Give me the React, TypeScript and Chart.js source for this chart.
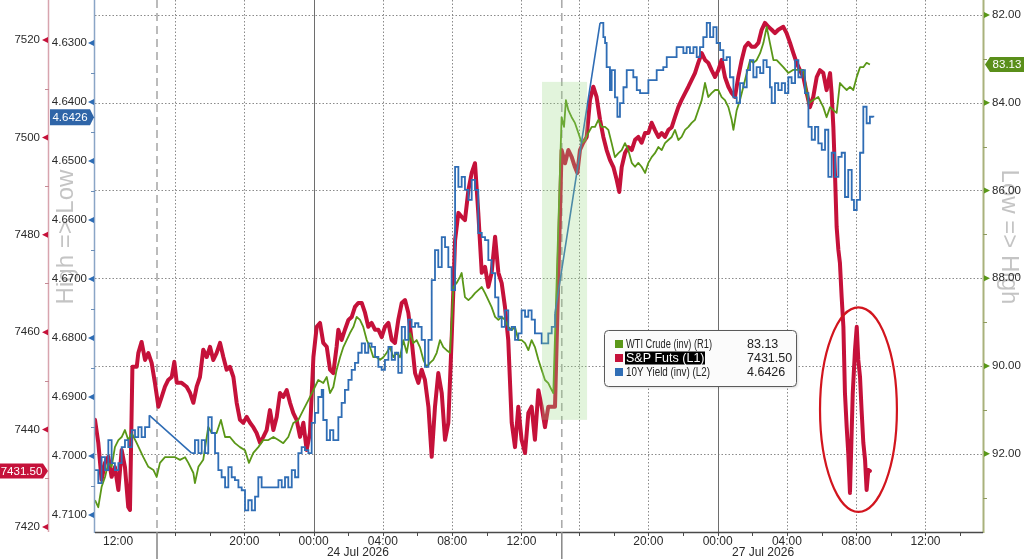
import React, { useEffect, useRef } from 'react';
import { Chart, registerables } from 'chart.js';

Chart.register(...registerables);

const FONT = "'Liberation Sans', Arial, sans-serif";

// ---- legend / series meta ----
const seriesNames = ['WTI Crude (inv) (R1)', 'S&P Futs (L1)', '10Y Yield (inv) (L2)'];
const seriesColors = ['#5a9718', '#c5113a', '#2f6db5'];

// ---- x axis: compressed session hours (0 = 12:00 Thu, breaks removed) ----
const xRange = [-0.62, 50.65];
const xLabelPos = [0.71, 8, 12, 16, 20, 24, 31.33, 35.33, 39.33, 43.33, 47.33];
const xLabelText = ['12:00', '20:00', '00:00', '04:00', '08:00', '12:00', '20:00', '00:00', '04:00', '08:00', '12:00'];
const xGridDotted = [4, 8, 16, 20, 24, 27.33, 31.33, 39.33, 43.33, 47.33];
const xDaySolid = [12, 35.33];
const xBreakDashed = [2.96, 26.33];
const xMinor = [6, 10, 14, 18, 22, 26, 29.33, 33.33, 37.33, 41.33, 45.33, 49.33];
const dateLabelPos = [14.56, 37.95];
const dateLabelText = ['24 Jul 2026', '27 Jul 2026'];

// ---- y axes ----
const spxRange = [7418.97, 7528.21];
const spxTicks = [7420, 7440, 7460, 7480, 7500, 7520];
const spxMinor = [7430, 7450, 7470, 7490, 7510];
const yldRange = [4.62271, 4.71288];
const yldTicks = [4.63, 4.64, 4.65, 4.66, 4.67, 4.68, 4.69, 4.7, 4.71];
const yldMinor = [4.635, 4.645, 4.655, 4.665, 4.675, 4.685, 4.695, 4.705];
const wtiRange = [81.658, 93.785];
const wtiTicks = [82, 84, 86, 88, 90, 92];
const wtiMinor = [83, 85, 87, 89, 91, 93];

// ---- annotations ----
const highlightX = [25.19, 27.79];
const highlightSpx = [7442.0, 7511.4];
const ellipseCenter = [43.46, 7444.1];
const ellipseRadius = [2.22, 21.0];

// ---- series: [session hour, value] ----
const spxSeries = [
  [-0.62,7442.0],[-0.43,7437.3],[-0.24,7429.7],[-0.04,7433.2],[0.15,7434.4],[0.34,7430.3],[0.53,7432.3],[0.73,7427.6],[0.92,7435.8],[1.11,7432.3],
  [1.30,7424.1],[1.40,7423.5],[1.54,7452.9],[1.79,7452.9],[1.88,7455.7],[2.07,7458.0],[2.27,7454.3],[2.46,7455.7],[2.65,7453.7],[2.84,7449.6],
  [3.04,7444.7],[3.23,7446.7],[3.42,7448.8],[3.61,7450.2],[3.81,7450.8],[3.96,7453.9],[4.10,7449.6],[4.38,7449.6],[4.67,7448.8],[4.87,7447.5],
  [5.06,7445.5],[5.25,7448.8],[5.44,7450.8],[5.63,7456.4],[5.83,7454.9],[6.02,7457.0],[6.21,7454.3],[6.40,7455.7],[6.60,7457.8],[6.79,7454.9],
  [6.98,7452.3],[7.17,7452.9],[7.37,7450.8],[7.56,7445.5],[7.75,7442.0],[7.94,7441.4],[8.14,7442.6],[8.33,7441.4],[8.52,7440.5],[8.71,7439.3],
  [8.91,7437.3],[9.10,7438.5],[9.29,7439.9],[9.48,7444.0],[9.68,7439.9],[9.87,7442.6],[10.06,7447.5],[10.25,7446.7],[10.45,7448.1],[10.64,7445.5],
  [10.83,7443.4],[11.02,7442.0],[11.22,7438.5],[11.41,7441.4],[11.60,7435.8],[11.79,7439.3],[11.99,7454.9],[12.18,7461.1],[12.37,7461.9],[12.56,7457.8],
  [12.76,7457.0],[12.95,7452.3],[13.14,7451.6],[13.33,7457.0],[13.43,7460.5],[13.62,7458.4],[13.81,7460.5],[14.01,7462.5],[14.20,7463.1],[14.39,7465.2],
  [14.58,7466.0],[14.78,7466.0],[14.97,7464.0],[15.16,7461.1],[15.35,7461.9],[15.55,7460.5],[15.74,7460.5],[15.93,7459.0],[16.12,7461.1],[16.32,7461.9],
  [16.51,7458.4],[16.70,7457.8],[16.89,7462.5],[17.09,7466.0],[17.28,7466.6],[17.47,7464.0],[17.66,7458.4],[17.86,7451.6],[18.05,7449.6],[18.24,7452.3],
  [18.43,7450.2],[18.63,7444.7],[18.82,7434.4],[19.01,7444.7],[19.20,7451.6],[19.40,7447.5],[19.59,7437.9],[19.78,7441.4],[19.97,7458.4],[20.17,7478.9],
  [20.36,7484.5],[20.55,7483.7],[20.74,7483.0],[20.94,7489.2],[21.13,7492.7],[21.32,7494.7],[21.51,7484.5],[21.71,7472.2],[21.90,7473.4],[22.09,7469.3],
  [22.28,7472.2],[22.48,7479.6],[22.67,7472.2],[22.86,7470.1],[23.05,7465.2],[23.24,7458.4],[23.44,7441.4],[23.63,7436.4],[23.82,7444.7],[24.01,7437.9],
  [24.21,7435.2],[24.40,7443.4],[24.59,7444.7],[24.78,7437.9],[24.98,7448.1],[25.17,7444.7],[25.36,7440.5],[25.55,7444.7],[25.75,7444.7],[25.94,7444.7],
  [26.32,7497.4],[26.52,7494.7],[26.71,7497.4],[26.90,7496.0],[27.09,7493.9],[27.23,7492.7],[27.38,7497.4],[27.57,7498.9],[27.77,7500.1],[27.96,7507.7],
  [28.15,7510.4],[28.34,7508.3],[28.54,7503.6],[28.73,7500.1],[28.92,7497.4],[29.11,7495.4],[29.31,7493.9],[29.50,7491.3],[29.65,7488.8],[29.79,7493.9],
  [29.98,7496.8],[30.17,7498.0],[30.37,7497.4],[30.56,7499.5],[30.75,7500.1],[30.94,7498.9],[31.14,7500.9],[31.33,7500.9],[31.52,7503.0],[31.71,7501.5],
  [31.91,7500.1],[32.10,7500.9],[32.29,7500.1],[32.48,7501.5],[32.68,7502.1],[32.87,7504.2],[33.06,7506.2],[33.25,7507.7],[33.45,7509.1],[33.64,7510.4],
  [33.83,7511.8],[34.02,7513.2],[34.21,7515.3],[34.41,7517.3],[34.60,7515.9],[34.79,7515.3],[34.98,7513.8],[35.18,7512.4],[35.37,7513.8],[35.56,7515.9],
  [35.75,7512.4],[35.95,7510.4],[36.14,7509.1],[36.33,7508.3],[36.52,7512.4],[36.72,7515.9],[36.91,7518.6],[37.10,7519.4],[37.29,7518.6],[37.49,7518.6],
  [37.68,7519.4],[37.87,7522.1],[38.06,7523.5],[38.26,7522.7],[38.45,7522.1],[38.64,7521.4],[38.83,7522.1],[39.12,7522.7],[39.31,7521.4],[39.51,7519.4],
  [39.70,7517.3],[39.89,7515.3],[40.08,7513.8],[40.28,7512.4],[40.47,7509.1],[40.66,7506.2],[40.85,7508.3],[41.05,7512.4],[41.24,7513.8],[41.43,7513.2],
  [41.62,7509.7],[41.82,7513.2],[41.91,7509.1],[42.01,7502.1],[42.11,7491.9],[42.20,7481.6],[42.30,7476.9],[42.39,7474.2],[42.49,7467.2],[42.59,7461.1],
  [42.68,7447.5],[42.78,7440.5],[42.87,7435.2],[42.97,7427.0],[43.13,7447.5],[43.26,7456.4],[43.36,7461.1],[43.45,7454.3],[43.55,7450.8],[43.64,7444.0],
  [43.74,7437.3],[43.84,7433.8],[43.93,7427.6],[44.03,7431.7],[44.12,7431.5]
];

const yldSeries = [
  [-0.62,4.7024],[-0.43,4.7046],[-0.24,4.7002],[-0.04,4.7024],[0.15,4.6973],[0.34,4.7012],[0.53,4.7024],[0.73,4.7012],[0.92,4.6985],[1.11,4.6973],
  [1.30,4.6985],[1.50,4.6956],[1.69,4.6968],[1.88,4.6951],[2.07,4.6968],[2.27,4.6951],[2.52,4.6931],[4.96,4.6995],[5.15,4.6973],[5.35,4.6995],
  [5.54,4.6973],[5.73,4.6995],[5.92,4.6934],[6.12,4.6961],[6.31,4.6995],[6.50,4.7024],[6.69,4.7036],[6.89,4.7053],[7.08,4.7019],[7.27,4.7036],
  [7.46,4.7041],[7.66,4.7053],[7.85,4.7058],[8.04,4.7092],[8.23,4.7075],[8.43,4.7092],[8.62,4.7069],[8.81,4.7036],[9.00,4.7053],[9.58,4.7053],
  [9.97,4.7041],[10.16,4.7053],[10.35,4.7036],[10.54,4.7053],[10.74,4.7024],[10.93,4.7036],[11.12,4.6995],[11.31,4.6985],[11.50,4.6990],[11.70,4.6995],
  [11.89,4.6944],[12.08,4.6927],[12.27,4.6900],[12.47,4.6888],[12.56,4.6939],[12.76,4.6973],[12.95,4.6956],[13.14,4.6973],[13.33,4.6973],[13.43,4.6934],
  [13.62,4.6910],[13.81,4.6888],[14.01,4.6871],[14.20,4.6854],[14.39,4.6842],[14.58,4.6825],[14.78,4.6809],[14.97,4.6825],[15.16,4.6809],[15.35,4.6815],
  [15.55,4.6832],[15.74,4.6849],[15.93,4.6854],[16.12,4.6837],[16.32,4.6815],[16.51,4.6837],[16.70,4.6825],[16.89,4.6859],[17.09,4.6781],[17.28,4.6803],
  [17.47,4.6769],[17.66,4.6781],[17.86,4.6775],[18.05,4.6781],[18.24,4.6803],[18.43,4.6849],[18.63,4.6803],[18.82,4.6702],[19.01,4.6651],[19.20,4.6680],
  [19.40,4.6629],[19.59,4.6646],[19.78,4.6680],[19.97,4.6719],[20.17,4.6510],[20.36,4.6544],[20.55,4.6527],[20.74,4.6549],[20.94,4.6566],[21.13,4.6532],
  [21.32,4.6549],[21.51,4.6622],[21.71,4.6629],[21.90,4.6634],[22.09,4.6668],[22.28,4.6690],[22.48,4.6731],[22.67,4.6764],[22.86,4.6781],[23.05,4.6753],
  [23.24,4.6786],[23.44,4.6781],[23.63,4.6803],[23.82,4.6792],[24.01,4.6753],[24.21,4.6764],[24.40,4.6753],[24.59,4.6769],[24.78,4.6792],[24.98,4.6792],
  [25.17,4.6809],[25.36,4.6809],[25.55,4.6792],[25.75,4.6781],[25.94,4.6758],[28.54,4.6266],[28.73,4.6290],[28.83,4.6300],[28.92,4.6341],[29.11,4.6380],
  [29.21,4.6346],[29.40,4.6392],[29.54,4.6425],[29.69,4.6402],[29.89,4.6375],[30.08,4.6346],[30.27,4.6346],[30.46,4.6358],[30.66,4.6380],[30.85,4.6385],
  [31.23,4.6385],[31.33,4.6363],[31.62,4.6363],[31.81,4.6346],[32.19,4.6341],[32.39,4.6324],[32.77,4.6324],[32.96,4.6307],[33.16,4.6307],[33.35,4.6317],
  [33.54,4.6307],[33.73,4.6317],[33.93,4.6307],[34.12,4.6324],[34.31,4.6307],[34.50,4.6290],[34.70,4.6266],[34.89,4.6290],[35.08,4.6273],[35.27,4.6300],
  [35.47,4.6312],[35.66,4.6329],[35.85,4.6324],[36.04,4.6358],[36.24,4.6392],[36.43,4.6402],[36.62,4.6368],[36.81,4.6375],[37.01,4.6346],[37.20,4.6329],
  [37.39,4.6358],[37.58,4.6341],[37.78,4.6351],[37.97,4.6329],[38.16,4.6341],[38.35,4.6375],[38.45,4.6402],[38.64,4.6368],[38.83,4.6380],[39.03,4.6368],
  [39.22,4.6385],[39.41,4.6358],[39.60,4.6368],[39.80,4.6329],[39.99,4.6358],[40.18,4.6346],[40.37,4.6385],[40.57,4.6442],[40.76,4.6464],[40.95,4.6442],
  [41.14,4.6470],[41.34,4.6481],[41.53,4.6447],[41.72,4.6527],[41.91,4.6486],[42.11,4.6527],[42.30,4.6493],[42.49,4.6486],[42.68,4.6561],[42.87,4.6515],
  [43.07,4.6566],[43.20,4.6583],[43.36,4.6566],[43.55,4.6486],[43.74,4.6408],[43.93,4.6436],[44.12,4.6425],[44.32,4.6426]
];

const wtiSeries = [
  [-0.62,93.06],[-0.43,93.22],[-0.24,92.76],[-0.04,92.53],[0.15,92.21],[0.34,92.30],[0.53,91.85],[0.73,91.69],[0.92,91.62],[1.11,91.46],
  [1.30,91.69],[1.50,91.53],[1.79,91.76],[1.98,91.92],[2.17,92.08],[2.46,92.30],[2.75,92.37],[2.94,92.53],[3.13,92.21],[3.42,92.08],
  [3.71,92.08],[4.00,92.08],[4.29,92.14],[4.58,92.08],[4.77,92.21],[5.06,92.44],[5.15,92.67],[5.35,92.30],[5.63,92.14],[5.92,91.39],
  [6.12,91.53],[6.40,91.53],[6.65,91.23],[6.89,91.62],[7.17,91.62],[7.46,91.76],[7.75,91.85],[8.04,91.92],[8.27,92.21],[8.52,91.98],
  [8.81,91.85],[9.10,91.69],[9.39,91.69],[9.68,91.62],[9.97,91.69],[10.25,91.76],[10.54,91.62],[10.83,91.30],[11.12,91.23],[11.41,91.00],
  [11.70,90.78],[11.99,90.55],[12.27,90.32],[12.56,90.39],[12.76,90.25],[12.95,90.62],[13.14,90.48],[13.33,90.09],[13.53,89.80],[13.72,89.57],
  [13.91,89.41],[14.10,89.25],[14.30,89.11],[14.49,88.88],[14.68,88.95],[14.87,89.11],[15.07,89.41],[15.26,89.57],[15.45,89.80],[15.64,89.80],
  [15.84,89.86],[16.03,89.80],[16.22,89.70],[16.41,89.57],[16.61,89.80],[16.80,89.70],[16.99,89.80],[17.18,89.41],[17.38,89.70],[17.57,89.25],
  [17.76,89.48],[17.95,89.41],[18.14,89.57],[18.34,89.86],[18.53,90.02],[18.72,89.93],[18.91,89.86],[19.11,89.70],[19.30,89.41],[19.49,89.57],
  [19.68,89.64],[19.88,89.70],[20.07,88.20],[20.26,88.11],[20.45,87.97],[20.55,87.88],[20.74,88.43],[20.94,88.50],[21.13,88.43],[21.32,88.34],
  [21.51,88.27],[21.71,88.20],[21.90,88.34],[22.09,88.50],[22.28,88.66],[22.48,88.88],[22.67,88.95],[22.86,88.88],[23.05,88.95],[23.24,89.11],
  [23.44,89.18],[23.63,89.11],[23.82,89.41],[24.01,89.41],[24.21,89.48],[24.40,89.64],[24.59,89.41],[24.78,89.57],[24.98,89.86],[25.17,90.09],
  [25.36,90.32],[25.55,90.39],[25.75,90.55],[25.84,90.62],[26.32,84.33],[26.46,84.55],[26.57,83.94],[26.71,84.17],[26.90,84.33],[27.09,84.46],
  [27.29,84.69],[27.48,84.92],[27.67,84.85],[27.86,84.69],[28.06,84.55],[28.25,84.55],[28.44,84.39],[28.63,84.55],[28.83,84.55],[29.02,84.62],
  [29.21,84.92],[29.40,85.24],[29.60,85.15],[29.79,85.08],[29.98,84.92],[30.17,85.08],[30.37,85.37],[30.56,85.46],[30.75,85.37],[30.94,85.46],
  [31.14,85.60],[31.33,85.37],[31.52,85.24],[31.71,85.15],[31.91,85.01],[32.10,85.08],[32.29,84.92],[32.48,84.85],[32.68,84.78],[32.87,84.62],
  [33.06,84.85],[33.25,84.78],[33.45,84.62],[33.64,84.55],[33.83,84.46],[34.02,84.39],[34.21,84.17],[34.41,83.94],[34.60,83.55],[34.79,83.87],
  [34.98,83.78],[35.18,83.71],[35.37,83.71],[35.56,83.87],[35.75,83.94],[35.95,84.10],[36.14,84.39],[36.24,84.62],[36.43,84.17],[36.62,83.94],
  [36.81,83.64],[37.01,83.32],[37.20,83.03],[37.39,83.09],[37.58,83.03],[37.78,82.87],[37.97,82.64],[38.16,82.27],[38.35,82.64],[38.55,83.03],
  [38.74,83.03],[39.12,83.19],[39.41,83.32],[39.70,83.25],[39.99,83.25],[40.28,83.25],[40.57,84.01],[40.85,83.94],[41.14,83.87],[41.43,84.10],
  [41.62,84.33],[41.82,84.10],[42.01,84.17],[42.20,84.23],[42.39,83.55],[42.59,83.64],[42.78,83.71],[42.97,83.64],[43.16,83.71],[43.36,83.41],
  [43.55,83.19],[43.74,83.19],[43.93,83.09],[44.12,83.13]
];

const lastWti = wtiSeries[wtiSeries.length - 1][1];
const lastSpx = spxSeries[spxSeries.length - 1][1];
const lastYld = yldSeries[yldSeries.length - 1][1];
const legendValues = [lastWti.toFixed(2), lastSpx.toFixed(2), lastYld.toFixed(4)];

function toPoints(s) {
  return s.map(([x, y]) => ({ x, y }));
}

// split yield into traded segments (stepped) plus straight bridges over closed hours
function splitGaps(s, gap) {
  const main = [];
  const bridge = [];
  s.forEach(([x, y], i) => {
    if (i > 0 && x - s[i - 1][0] > gap) {
      const [px, py] = s[i - 1];
      main.push({ x: (px + x) / 2, y: null });
      bridge.push({ x: px, y: py }, { x, y }, { x: x + 0.001, y: null });
    }
    main.push({ x, y });
  });
  return { main, bridge };
}

function hline(ctx, x1, y1, x2, y2) {
  ctx.beginPath();
  ctx.moveTo(x1, y1);
  ctx.lineTo(x2, y2);
  ctx.stroke();
}

function drawTag(ctx, x0, x1, tipX, y, h, color, text) {
  ctx.beginPath();
  if (tipX > x1) {
    ctx.moveTo(x0, y - h / 2);
    ctx.lineTo(x1, y - h / 2);
    ctx.lineTo(tipX, y);
    ctx.lineTo(x1, y + h / 2);
    ctx.lineTo(x0, y + h / 2);
  } else {
    ctx.moveTo(tipX, y);
    ctx.lineTo(x0, y - h / 2);
    ctx.lineTo(x1, y - h / 2);
    ctx.lineTo(x1, y + h / 2);
    ctx.lineTo(x0, y + h / 2);
  }
  ctx.closePath();
  ctx.fillStyle = color;
  ctx.fill();
  ctx.fillStyle = '#ffffff';
  ctx.font = `11.5px ${FONT}`;
  ctx.textAlign = 'center';
  ctx.textBaseline = 'middle';
  ctx.fillText(text, (x0 + x1) / 2, y + 0.5);
}

const decorPlugin = {
  id: 'decor',
  beforeDraw(chart) {
    const { ctx, chartArea: a, scales } = chart;
    const yY = scales.yYld;
    const yW = scales.yWTI;
    ctx.save();
    ctx.fillStyle = '#c4c4c4';
    ctx.font = `24px ${FONT}`;
    ctx.textAlign = 'center';
    ctx.textBaseline = 'middle';
    const midY = (a.top + a.bottom) / 2 - 29;
    ctx.save();
    ctx.translate(yY.left + 17, midY);
    ctx.rotate(-Math.PI / 2);
    ctx.fillText('High => Low', 0, 0);
    ctx.restore();
    ctx.save();
    ctx.translate(yW.left + 26, midY);
    ctx.rotate(Math.PI / 2);
    ctx.fillText('Low => High', 0, 0);
    ctx.restore();
    ctx.restore();
  },
  beforeDatasetsDraw(chart) {
    const { ctx, chartArea: a, scales } = chart;
    const x = scales.x;
    const yW = scales.yWTI;
    ctx.save();
    ctx.lineWidth = 1;
    ctx.strokeStyle = '#8a8a8a';
    ctx.setLineDash([1.5, 2]);
    wtiTicks.forEach((v) => {
      const py = Math.round(yW.getPixelForValue(v)) + 0.5;
      hline(ctx, a.left, py, a.right, py);
    });
    xGridDotted.forEach((v) => {
      const px = Math.round(x.getPixelForValue(v)) + 0.5;
      hline(ctx, px, a.top, px, a.bottom);
    });
    ctx.setLineDash([]);
    ctx.strokeStyle = '#6e6e6e';
    xDaySolid.forEach((v) => {
      const px = Math.round(x.getPixelForValue(v)) + 0.5;
      hline(ctx, px, a.top, px, a.bottom);
    });
    ctx.setLineDash([8, 5]);
    ctx.strokeStyle = '#ababab';
    ctx.lineWidth = 1.6;
    xBreakDashed.forEach((v) => {
      const px = x.getPixelForValue(v);
      hline(ctx, px, a.top, px, a.bottom);
    });
    ctx.restore();
  },
  afterDatasetsDraw(chart) {
    const { ctx, chartArea: a, scales } = chart;
    const x = scales.x;
    const yS = scales.ySP;
    const yY = scales.yYld;
    const yW = scales.yWTI;
    ctx.save();

    // highlighted weekend window
    const hx0 = x.getPixelForValue(highlightX[0]);
    const hx1 = x.getPixelForValue(highlightX[1]);
    const hy0 = yS.getPixelForValue(highlightSpx[1]);
    const hy1 = yS.getPixelForValue(highlightSpx[0]);
    ctx.fillStyle = 'rgba(150, 215, 130, 0.28)';
    ctx.fillRect(hx0, hy0, hx1 - hx0, hy1 - hy0);

    // ellipse
    const cx = x.getPixelForValue(ellipseCenter[0]);
    const cy = yS.getPixelForValue(ellipseCenter[1]);
    const rx = x.getPixelForValue(ellipseCenter[0] + ellipseRadius[0]) - cx;
    const ry = cy - yS.getPixelForValue(ellipseCenter[1] + ellipseRadius[1]);
    ctx.beginPath();
    ctx.ellipse(cx, cy, rx, ry, 0, 0, Math.PI * 2);
    ctx.strokeStyle = '#d2151e';
    ctx.lineWidth = 2.2;
    ctx.stroke();

    // axis lines
    ctx.lineWidth = 1.5;
    ctx.strokeStyle = '#d8a4ae';
    hline(ctx, yS.right - 0.5, a.top, yS.right - 0.5, a.bottom);
    ctx.strokeStyle = '#8aa5c6';
    hline(ctx, yY.right - 0.5, a.top, yY.right - 0.5, a.bottom + 1);
    ctx.strokeStyle = '#a9b27c';
    ctx.lineWidth = 2;
    hline(ctx, yW.left + 0.5, a.top, yW.left + 0.5, a.bottom + 1);
    ctx.strokeStyle = '#4a4a4a';
    ctx.lineWidth = 1.5;
    hline(ctx, a.left, a.bottom + 0.5, a.right, a.bottom + 0.5);

    // tick markers
    const tri = (tx, ty, dir, color) => {
      ctx.beginPath();
      ctx.moveTo(tx + dir * 6, ty);
      ctx.lineTo(tx, ty - 3);
      ctx.lineTo(tx, ty + 3);
      ctx.closePath();
      ctx.fillStyle = color;
      ctx.fill();
    };
    spxTicks.forEach((v) => tri(yS.right - 1, yS.getPixelForValue(v), -1, '#c5113a'));
    yldTicks.forEach((v) => tri(yY.right - 1, yY.getPixelForValue(v), -1, '#2f6db5'));
    wtiTicks.forEach((v) => tri(yW.left + 1, yW.getPixelForValue(v), 1, '#5a9718'));
    ctx.lineWidth = 1;
    ctx.strokeStyle = '#c58a95';
    spxMinor.forEach((v) => { const py = Math.round(yS.getPixelForValue(v)) + 0.5; hline(ctx, yS.right - 4, py, yS.right, py); });
    ctx.strokeStyle = '#6d8fb8';
    yldMinor.forEach((v) => { const py = Math.round(yY.getPixelForValue(v)) + 0.5; hline(ctx, yY.right - 4, py, yY.right, py); });
    ctx.strokeStyle = '#8f9a5e';
    wtiMinor.forEach((v) => { const py = Math.round(yW.getPixelForValue(v)) + 0.5; hline(ctx, yW.left, py, yW.left + 4, py); });
    ctx.strokeStyle = '#4a4a4a';
    [...xMinor, ...xGridDotted, ...xDaySolid].forEach((v) => {
      const px = Math.round(x.getPixelForValue(v)) + 0.5;
      hline(ctx, px, a.bottom, px, a.bottom + 4);
    });
    ctx.strokeStyle = '#8c8c8c';
    ctx.lineWidth = 1.6;
    xBreakDashed.forEach((v) => {
      const px = x.getPixelForValue(v);
      hline(ctx, px, a.bottom, px, chart.height);
    });

    // date labels
    ctx.fillStyle = '#2a2a2a';
    ctx.font = `12px ${FONT}`;
    ctx.textAlign = 'center';
    ctx.textBaseline = 'middle';
    dateLabelPos.forEach((v, i) => ctx.fillText(dateLabelText[i], x.getPixelForValue(v), a.bottom + 21));

    // legend
    const lx = 604.5, ly = 330.5, lw = 192, lh = 56;
    ctx.save();
    ctx.shadowColor = 'rgba(0,0,0,0.18)';
    ctx.shadowBlur = 3;
    ctx.shadowOffsetX = 1;
    ctx.shadowOffsetY = 1;
    ctx.beginPath();
    ctx.roundRect(lx, ly, lw, lh, 4);
    ctx.fillStyle = '#fbfbfb';
    ctx.fill();
    ctx.restore();
    ctx.beginPath();
    ctx.roundRect(lx, ly, lw, lh, 4);
    ctx.strokeStyle = '#5a5a5a';
    ctx.lineWidth = 1;
    ctx.stroke();
    const rowY = [344, 358, 372];
    const maxW = [86, 79, 84];
    ctx.font = `12.5px ${FONT}`;
    ctx.textAlign = 'left';
    ctx.textBaseline = 'middle';
    seriesNames.forEach((name, i) => {
      const ry2 = rowY[i];
      ctx.fillStyle = seriesColors[i];
      ctx.fillRect(615, ry2 - 4, 8, 8);
      if (i === 1) {
        ctx.fillStyle = '#000000';
        ctx.fillRect(625, ry2 - 6.5, 80, 13);
        ctx.fillStyle = '#ffffff';
      } else {
        ctx.fillStyle = '#222222';
      }
      ctx.fillText(name, 626, ry2 + 0.5, maxW[i]);
      ctx.fillStyle = '#222222';
      ctx.fillText(legendValues[i], 747, ry2 + 0.5);
    });

    // last-value tags
    drawTag(ctx, 0, 43, yS.right - 1, yS.getPixelForValue(lastSpx), 15, '#c5113a', lastSpx.toFixed(2));
    drawTag(ctx, yS.right + 1, yY.right - 5, yY.right - 1, yY.getPixelForValue(lastYld), 16, '#2f65a8', lastYld.toFixed(4));
    drawTag(ctx, yW.left + 7, chart.width, yW.left + 2, yW.getPixelForValue(lastWti), 15, '#5a8f1a', lastWti.toFixed(2));

    ctx.restore();
  },
};

function fitPad(size, key) {
  return (s) => {
    s[key] = size;
    s.paddingTop = 0;
    s.paddingBottom = 0;
    s.paddingLeft = 0;
    s.paddingRight = 0;
  };
}

export default function App() {
  const ref = useRef(null);

  useEffect(() => {
    document.body.style.margin = '0';
    const yld = splitGaps(yldSeries, 1);
    const tickFont = { family: FONT, size: 11.5 };
    const chart = new Chart(ref.current, {
      type: 'line',
      data: {
        datasets: [
          { label: seriesNames[2], data: yld.main, yAxisID: 'yYld', borderColor: seriesColors[2], borderWidth: 1.8, stepped: true, spanGaps: false, pointRadius: 0, order: 1 },
          { label: seriesNames[2] + ' bridge', data: yld.bridge, yAxisID: 'yYld', borderColor: seriesColors[2], borderWidth: 1.6, spanGaps: false, pointRadius: 0, order: 1 },
          { label: seriesNames[0], data: toPoints(wtiSeries), yAxisID: 'yWTI', borderColor: seriesColors[0], borderWidth: 1.8, pointRadius: 0, tension: 0, order: 2, borderJoinStyle: 'round' },
          { label: seriesNames[1], data: toPoints(spxSeries), yAxisID: 'ySP', borderColor: seriesColors[1], borderWidth: 4, pointRadius: 0, tension: 0, order: 3, borderJoinStyle: 'round', borderCapStyle: 'round' },
        ],
      },
      options: {
        responsive: false,
        animation: false,
        events: [],
        layout: { padding: 0 },
        plugins: { legend: { display: false }, tooltip: { enabled: false } },
        scales: {
          x: {
            type: 'linear', min: xRange[0], max: xRange[1], bounds: 'data',
            afterFit: fitPad(27, 'height'),
            afterBuildTicks: (s) => { s.ticks = xLabelPos.map((v) => ({ value: v })); },
            grid: { display: false, drawTicks: false },
            border: { display: false },
            ticks: { autoSkip: false, maxRotation: 0, padding: 2, color: '#2a2a2a', font: { family: FONT, size: 12 }, callback: (v, i) => xLabelText[i] },
          },
          ySP: {
            type: 'linear', position: 'left', weight: 2, min: spxRange[0], max: spxRange[1], bounds: 'data',
            afterFit: fitPad(49, 'width'),
            afterBuildTicks: (s) => { s.ticks = spxTicks.map((v) => ({ value: v })); },
            grid: { display: false, drawTicks: false },
            border: { display: false },
            ticks: { autoSkip: false, padding: 9, color: '#2a2a2a', font: tickFont, callback: (v) => String(v) },
          },
          yYld: {
            type: 'linear', position: 'left', weight: 1, reverse: true, min: yldRange[0], max: yldRange[1], bounds: 'data',
            afterFit: fitPad(46, 'width'),
            afterBuildTicks: (s) => { s.ticks = yldTicks.map((v) => ({ value: v })); },
            grid: { display: false, drawTicks: false },
            border: { display: false },
            ticks: { autoSkip: false, padding: 8, color: '#2a2a2a', font: tickFont, callback: (v) => Number(v).toFixed(4) },
          },
          yWTI: {
            type: 'linear', position: 'right', reverse: true, min: wtiRange[0], max: wtiRange[1], bounds: 'data',
            afterFit: fitPad(41, 'width'),
            afterBuildTicks: (s) => { s.ticks = wtiTicks.map((v) => ({ value: v })); },
            grid: { display: false, drawTicks: false },
            border: { display: false },
            ticks: { autoSkip: false, padding: 9, color: '#2a2a2a', font: tickFont, callback: (v) => Number(v).toFixed(2) },
          },
        },
      },
      plugins: [decorPlugin],
    });
    return () => chart.destroy();
  }, []);

  return (
    <div style={{ width: 1024, height: 559, overflow: 'hidden', background: '#ffffff' }}>
      <canvas ref={ref} width={1024} height={559} style={{ display: 'block' }} />
    </div>
  );
}
